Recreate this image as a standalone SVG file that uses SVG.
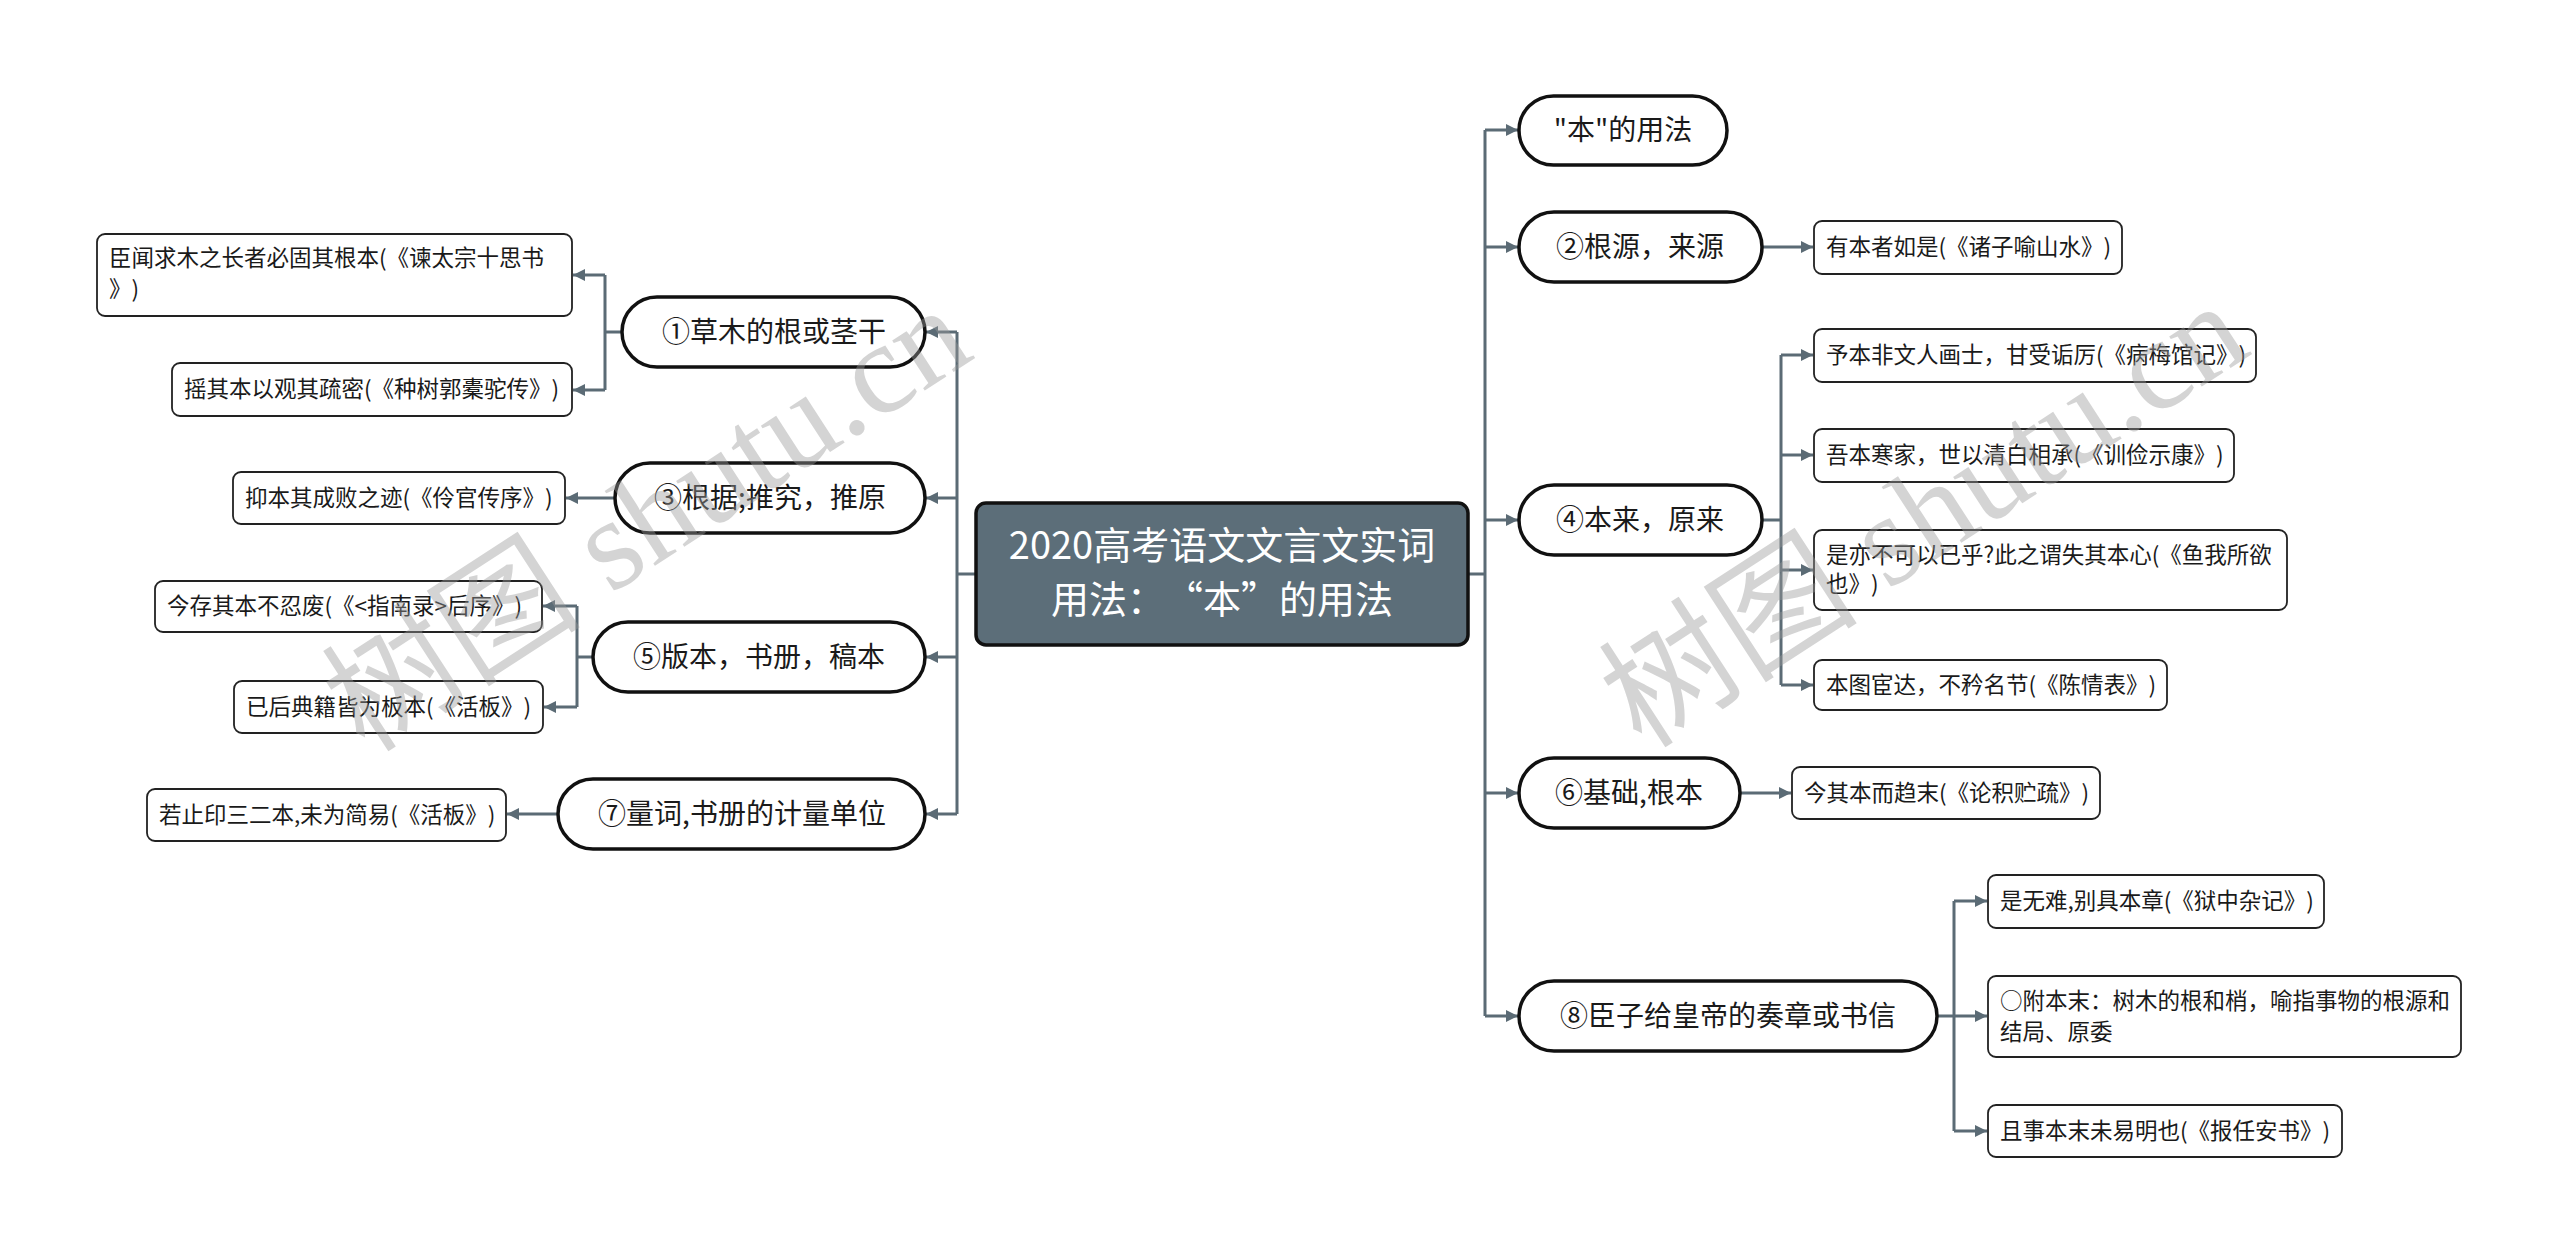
<svg xmlns="http://www.w3.org/2000/svg" width="2560" height="1254" viewBox="0 0 2560 1254">
<defs>
<style>
text{text-spacing-trim:space-all}
.bg{fill:#ffffff}
.conn{fill:none;stroke:#5b6b75;stroke-width:3}
.arr{marker-end:url(#ah)}
.main rect{fill:#ffffff;stroke:#111111;stroke-width:3.5}
.main text{font-family:"Noto Sans CJK SC","Noto Sans",sans-serif;font-size:28px;fill:#1a1a1a;text-anchor:middle}
.leaf rect{fill:#ffffff;stroke:#222222;stroke-width:1.8}
.leaf text{font-family:"Noto Sans CJK SC","Noto Sans",sans-serif;font-size:22.5px;fill:#1a1a1a}
.root rect{fill:#5c6e79;stroke:#111111;stroke-width:3.5}
.root text{font-family:"Noto Sans CJK SC","Noto Sans",sans-serif;font-size:38px;fill:#ffffff;text-anchor:middle}
.wm{font-family:"Liberation Serif","Noto Sans CJK SC",serif;font-size:130px;fill:#9a9a9a;opacity:0.42;text-anchor:middle}
</style>
<marker id="ah" markerUnits="userSpaceOnUse" markerWidth="12" markerHeight="12" refX="12" refY="6" orient="auto">
<path d="M0,0 L12,6 L0,12 z" fill="#5b6b75"/>
</marker>
</defs>
<rect class="bg" x="0" y="0" width="2560" height="1254"/>

<g id="connectors">
<path class="conn" d="M976,574 H957 M957,332 V814"/>
<path class="conn arr" d="M957,332 H926"/>
<path class="conn arr" d="M957,498 H926"/>
<path class="conn arr" d="M957,657 H926"/>
<path class="conn arr" d="M957,814 H926"/>
<path class="conn" d="M622,332 H605 M605,275 V390"/>
<path class="conn arr" d="M605,275 H573"/>
<path class="conn arr" d="M605,390 H573"/>
<path class="conn arr" d="M615,498 H566"/>
<path class="conn" d="M593,657 H577 M577,606 V707"/>
<path class="conn arr" d="M577,606 H543"/>
<path class="conn arr" d="M577,707 H544"/>
<path class="conn arr" d="M558,814 H507"/>
<path class="conn" d="M1468,574 H1485 M1485,130 V1016"/>
<path class="conn arr" d="M1485,130 H1518"/>
<path class="conn arr" d="M1485,247 H1518"/>
<path class="conn arr" d="M1485,520 H1518"/>
<path class="conn arr" d="M1485,793 H1518"/>
<path class="conn arr" d="M1485,1016 H1518"/>
<path class="conn arr" d="M1762,247 H1813"/>
<path class="conn" d="M1762,520 H1781 M1781,355 V685"/>
<path class="conn arr" d="M1781,355 H1813"/>
<path class="conn arr" d="M1781,455 H1813"/>
<path class="conn arr" d="M1781,570 H1813"/>
<path class="conn arr" d="M1781,685 H1813"/>
<path class="conn arr" d="M1740,793 H1791"/>
<path class="conn" d="M1937,1016 H1954 M1954,901 V1131"/>
<path class="conn arr" d="M1954,901 H1987"/>
<path class="conn arr" d="M1954,1016 H1987"/>
<path class="conn arr" d="M1954,1131 H1987"/>
</g>

<g id="root" class="root">
<rect x="976" y="503" width="492" height="142" rx="10"/>
<text x="1222" y="559">2020高考语文文言文实词</text>
<text x="1222" y="613">用法：“本”的用法</text>
</g>

<g id="n0" class="main"><rect x="1519" y="96" width="208" height="69" rx="34.5"/><text x="1623" y="140">"本"的用法</text></g>
<g id="n2" class="main"><rect x="1519" y="212" width="243" height="70" rx="35"/><text x="1640" y="257">②根源，来源</text></g>
<g id="n4" class="main"><rect x="1519" y="485" width="243" height="70" rx="35"/><text x="1640" y="530">④本来，原来</text></g>
<g id="n6" class="main"><rect x="1519" y="758" width="221" height="70" rx="35"/><text x="1629" y="803">⑥基础,根本</text></g>
<g id="n8" class="main"><rect x="1519" y="981" width="418" height="70" rx="35"/><text x="1728" y="1026">⑧臣子给皇帝的奏章或书信</text></g>
<g id="n1" class="main"><rect x="622" y="297" width="303" height="70" rx="35"/><text x="774" y="342">①草木的根或茎干</text></g>
<g id="n3" class="main"><rect x="615" y="463" width="310" height="70" rx="35"/><text x="770" y="508">③根据;推究，推原</text></g>
<g id="n5" class="main"><rect x="593" y="622" width="332" height="70" rx="35"/><text x="759" y="667">⑤版本，书册，稿本</text></g>
<g id="n7" class="main"><rect x="558" y="779" width="367" height="70" rx="35"/><text x="742" y="824">⑦量词,书册的计量单位</text></g>

<g id="l1a" class="leaf"><rect x="97" y="234" width="475" height="82" rx="8"/><text x="109" y="266">臣闻求木之长者必固其根本(《谏太宗十思书</text><text x="109" y="297">》)</text></g>
<g id="l1b" class="leaf"><rect x="172" y="363" width="400" height="53" rx="8"/><text x="184" y="397">摇其本以观其疏密(《种树郭橐驼传》)</text></g>
<g id="l3" class="leaf"><rect x="233" y="472" width="332" height="52" rx="8"/><text x="245" y="506">抑本其成败之迹(《伶官传序》)</text></g>
<g id="l5a" class="leaf"><rect x="155" y="581" width="387" height="51" rx="8"/><text x="167" y="614">今存其本不忍废(《&lt;指南录&gt;后序》)</text></g>
<g id="l5b" class="leaf"><rect x="234" y="681" width="309" height="52" rx="8"/><text x="246" y="715">已后典籍皆为板本(《活板》)</text></g>
<g id="l7" class="leaf"><rect x="147" y="789" width="359" height="52" rx="8"/><text x="159" y="823">若止印三二本,未为简易(《活板》)</text></g>

<g id="r2" class="leaf"><rect x="1814" y="221" width="308" height="53" rx="8"/><text x="1826" y="255">有本者如是(《诸子喻山水》)</text></g>
<g id="r4a" class="leaf"><rect x="1814" y="329" width="442" height="53" rx="8"/><text x="1826" y="363">予本非文人画士，甘受诟厉(《病梅馆记》)</text></g>
<g id="r4b" class="leaf"><rect x="1814" y="429" width="420" height="53" rx="8"/><text x="1826" y="463">吾本寒家，世以清白相承(《训俭示康》)</text></g>
<g id="r4c" class="leaf"><rect x="1814" y="530" width="473" height="80" rx="8"/><text x="1826" y="563">是亦不可以已乎?此之谓失其本心(《鱼我所欲</text><text x="1826" y="592">也》)</text></g>
<g id="r4d" class="leaf"><rect x="1814" y="660" width="353" height="50" rx="8"/><text x="1826" y="693">本图宦达，不矜名节(《陈情表》)</text></g>
<g id="r6" class="leaf"><rect x="1792" y="767" width="308" height="52" rx="8"/><text x="1804" y="801">今其本而趋末(《论积贮疏》)</text></g>
<g id="r8a" class="leaf"><rect x="1988" y="875" width="336" height="53" rx="8"/><text x="2000" y="909">是无难,别具本章(《狱中杂记》)</text></g>
<g id="r8b" class="leaf"><rect x="1988" y="976" width="473" height="81" rx="8"/><text x="2000" y="1009">○附本末：树木的根和梢，喻指事物的根源和</text><text x="2000" y="1040">结局、原委</text></g>
<g id="r8c" class="leaf"><rect x="1988" y="1105" width="354" height="52" rx="8"/><text x="2000" y="1139">且事本末未易明也(《报任安书》)</text></g>

<g id="watermarks">
<text class="wm" transform="translate(649,522) rotate(-33)" x="0" y="40">树图 shutu.cn</text>
<text class="wm" transform="translate(1926,518) rotate(-33)" x="0" y="40">树图 shutu.cn</text>
</g>
</svg>
